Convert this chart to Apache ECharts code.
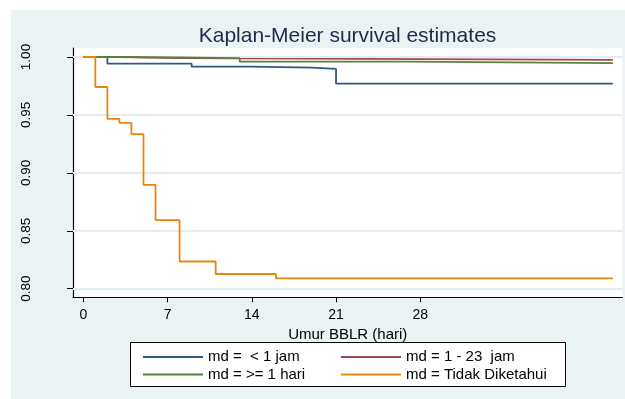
<!DOCTYPE html>
<html>
<head>
<meta charset="utf-8">
<script src="https://cdn.jsdelivr.net/npm/echarts/dist/echarts.min.js"></script>
<style>
  html, body { margin: 0; padding: 0; background: #fff; }
  #wrap { position: relative; width: 625px; height: 399px; }
  #bg { position: absolute; left: 11px; top: 10px; right: 0; bottom: 0; background: #eaf2f3; }
  #main { position: absolute; left: 0; top: 0; width: 625px; height: 399px; }
</style>
</head>
<body>
<div id="wrap"><div id="bg"></div><div id="main"></div></div>
<script>
// data (days, survival)
var lessHourDays = [0, 2, 9, 14, 19, 21, 44];
var lessHourSurv = [1, 0.9942, 0.9917, 0.9908, 0.9897, 0.977, 0.977];

var hoursDays = [0, 3, 8, 44];
var hoursSurv = [1, 0.9991, 0.9976, 0.9976];

var dayDays = [0, 4, 13, 27, 44];
var daySurv = [1, 0.999, 0.996, 0.9948, 0.9948];

var unknownDays = [0, 1, 2, 3, 4, 5, 6, 8, 11, 16, 44];
var unknownSurv = [1, 0.9741, 0.9466, 0.9431, 0.9334, 0.8897, 0.8592, 0.8235, 0.8127, 0.8089, 0.8089];

var seriesNames = ['md =  < 1 jam', 'md = 1 - 23  jam', 'md = >= 1 hari', 'md = Tidak Diketahui'];
var xTicks = [0, 7, 14, 21, 28];
var yTicks = [0.80, 0.85, 0.90, 0.95, 1.00];

var colors = ['#2f5a84', '#a3474f', '#5d7f3c', '#e8860c'];
var font = 'Liberation Sans, Arial, sans-serif';

function pairs(days, surv) {
  var out = [];
  for (var i = 0; i < days.length; i++) out.push([days[i], surv[i]]);
  return out;
}

var allData = [
  pairs(lessHourDays, lessHourSurv),
  pairs(hoursDays, hoursSurv),
  pairs(dayDays, daySurv),
  pairs(unknownDays, unknownSurv)
];

var chart = echarts.init(document.getElementById('main'), null, { renderer: 'canvas' });

var legendBase = {
  orient: 'vertical', top: 344, itemWidth: 60, itemHeight: 14, itemGap: 1.5,
  selectedMode: false,
  itemStyle: { opacity: 0 },
  textStyle: { fontSize: 15, color: '#000', fontFamily: font, lineHeight: 16 }
};

var series = allData.map(function (d, i) {
  return {
    name: seriesNames[i], type: 'line', step: 'end',
    data: d, symbol: 'none', showSymbol: false,
    lineStyle: { width: 1.8, color: colors[i] },
    z: 3 + i
  };
});

// light horizontal grid at the y ticks
series.unshift({
  type: 'line', data: [], z: 1, silent: true,
  markLine: {
    silent: true, symbol: 'none', label: { show: false },
    lineStyle: { type: 'solid', color: '#e3edef', width: 2 },
    data: yTicks.map(function (v) { return { yAxis: v }; })
  }
});

var option = {
  backgroundColor: 'transparent',
  animation: false,
  color: colors,
  grid: {
    left: 73, top: 48, right: 2.5, bottom: 101.7,
    show: true, backgroundColor: '#fff', borderWidth: 0
  },
  graphic: [
    {
      type: 'text', x: 347.5, y: 36,
      style: {
        text: 'Kaplan-Meier survival estimates',
        font: '21px ' + font, fill: '#1c2b4b',
        textAlign: 'center', textVerticalAlign: 'middle'
      }
    },
    {
      type: 'rect', z: -1,
      shape: { x: 130.5, y: 342.5, width: 435, height: 44 },
      style: { fill: '#fff', stroke: '#000', lineWidth: 1 }
    }
  ],
  xAxis: {
    type: 'value', min: -0.856, max: 44.8,
    name: 'Umur BBLR (hari)', nameLocation: 'middle', nameGap: 29,
    nameTextStyle: { fontSize: 15, color: '#000', fontFamily: font },
    axisLine: { onZero: false, lineStyle: { color: '#000', width: 1.2 } },
    axisTick: { customValues: xTicks, length: 5, lineStyle: { color: '#000' } },
    axisLabel: { customValues: xTicks, margin: 11, fontSize: 14, color: '#000', fontFamily: font },
    splitLine: { show: false }
  },
  yAxis: {
    type: 'value', min: 0.79258, max: 1.00777,
    axisLine: { show: true, onZero: false, lineStyle: { color: '#000', width: 1.2 } },
    axisTick: { show: true, customValues: yTicks, length: 6, lineStyle: { color: '#000' } },
    axisLabel: {
      customValues: yTicks, rotate: 90, margin: 40, fontSize: 13.5, color: '#000', fontFamily: font,
      formatter: function (v) { return v.toFixed(2); }
    },
    splitLine: { show: false }
  },
  legend: [
    Object.assign({ data: [seriesNames[0], seriesNames[2]], left: 137 }, legendBase),
    Object.assign({ data: [seriesNames[1], seriesNames[3]], left: 335 }, legendBase)
  ],
  series: series
};

chart.setOption(option);
</script>
</body>
</html>
